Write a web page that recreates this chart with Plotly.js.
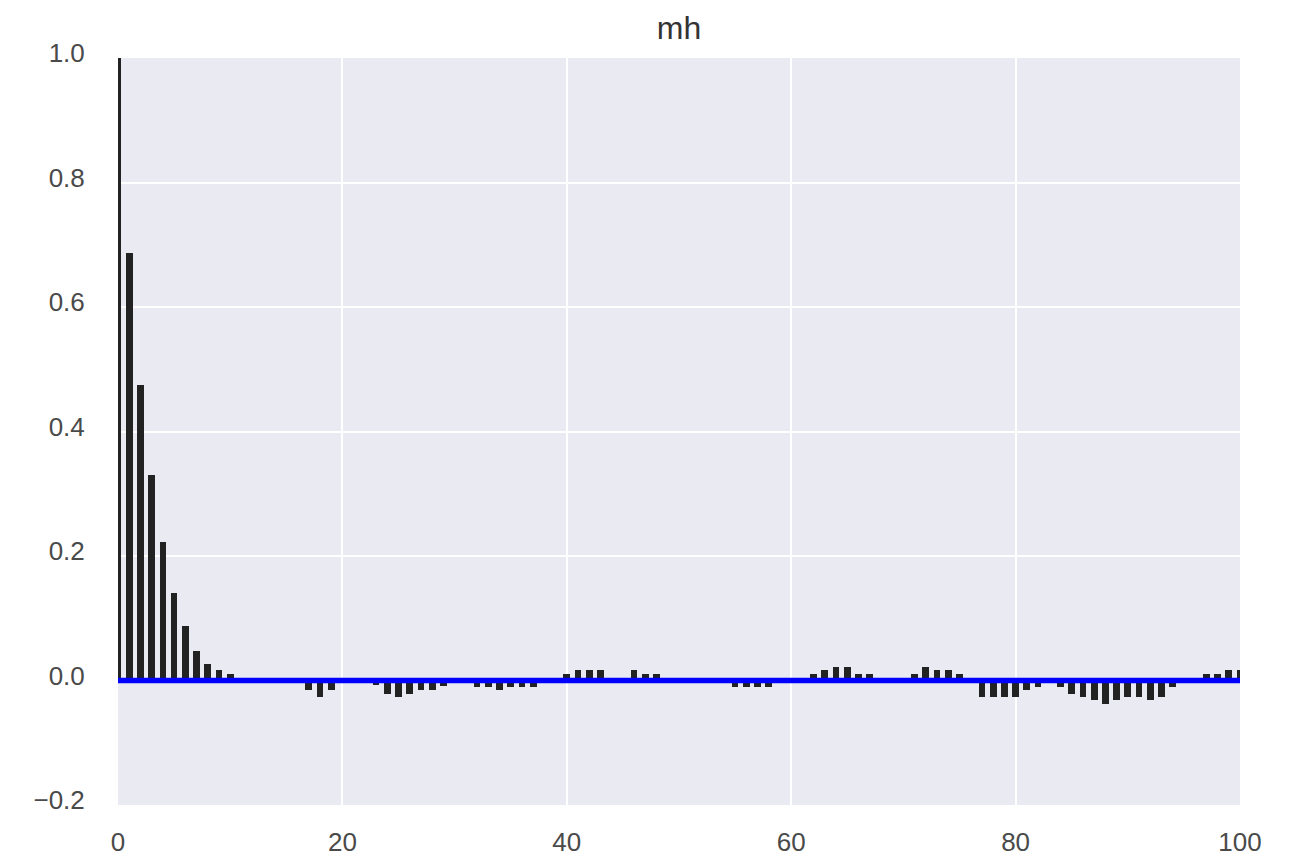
<!DOCTYPE html>
<html>
<head>
<meta charset="utf-8">
<script src="https://cdn.plot.ly/plotly-3.0.1.min.js"></script>
<style>
  html, body { margin: 0; padding: 0; background: #ffffff; }
  #chart { width: 1289px; height: 860px; }
</style>
</head>
<body>
<div id="chart"></div>
<script>
// Autocorrelation of "mh" by lag (0..100)
const lags = Array.from({length: 101}, (_, i) => i);
const acf = [
  1.000, 0.686, 0.475, 0.330, 0.222, 0.140, 0.087, 0.048, 0.027, 0.017,
  0.011, 0.004, 0.003, 0.002, 0.002, -0.003, -0.004, -0.016, -0.026, -0.016,
  -0.003, -0.002, -0.004, -0.008, -0.021, -0.026, -0.021, -0.016, -0.016, -0.009,
  -0.003, -0.003, -0.010, -0.010, -0.016, -0.010, -0.010, -0.010, -0.003, 0.003,
  0.011, 0.017, 0.017, 0.017, 0.003, 0.003, 0.017, 0.011, 0.011, 0.003,
  0.002, 0.002, -0.002, -0.003, -0.004, -0.010, -0.010, -0.010, -0.010, -0.003,
  -0.002, 0.003, 0.011, 0.017, 0.022, 0.022, 0.011, 0.011, 0.003, 0.003,
  0.004, 0.011, 0.022, 0.017, 0.017, 0.011, -0.002, -0.026, -0.026, -0.026,
  -0.026, -0.016, -0.010, -0.004, -0.010, -0.021, -0.026, -0.032, -0.037, -0.032,
  -0.026, -0.026, -0.032, -0.026, -0.010, 0.003, 0.004, 0.011, 0.011, 0.017,
  0.017
];
const baselineLevel = 0;

const xTickVals = [0, 20, 40, 60, 80, 100];
const xTickText = ['0', '20', '40', '60', '80', '100'];
const yTickVals = [-0.2, 0.0, 0.2, 0.4, 0.6, 0.8, 1.0];
const yTickText = ['\u22120.2', '0.0', '0.2', '0.4', '0.6', '0.8', '1.0'];
const chartTitle = 'mh';

const tickFont = {family: 'Liberation Sans, Arial, sans-serif', size: 26, color: '#4a4a4a'};

const traces = [
  {
    type: 'bar',
    x: lags,
    y: acf,
    width: 0.6,
    marker: {color: '#222222', line: {width: 0}},
    hoverinfo: 'skip'
  },
  {
    type: 'scatter',
    mode: 'lines',
    x: [lags[0], lags[lags.length - 1]],
    y: [baselineLevel, baselineLevel],
    line: {color: '#0000ff', width: 5.5},
    hoverinfo: 'skip'
  }
];

const layout = {
  width: 1289,
  height: 860,
  margin: {l: 118, r: 49, t: 58, b: 55},
  paper_bgcolor: '#ffffff',
  plot_bgcolor: '#eaeaf2',
  showlegend: false,
  bargap: 0,
  title: {
    text: chartTitle,
    font: {family: 'Liberation Sans, Arial, sans-serif', size: 32, color: '#333333'},
    x: 0.5, xref: 'paper', xanchor: 'center',
    y: 1, yref: 'paper', yanchor: 'bottom',
    pad: {b: 19}
  },
  xaxis: {
    range: [0, 100],
    tickvals: xTickVals,
    ticktext: xTickText,
    showgrid: true,
    gridcolor: '#ffffff',
    gridwidth: 2,
    zeroline: false,
    showline: false,
    ticks: 'outside',
    ticklen: 14,
    tickcolor: 'rgba(0,0,0,0)',
    tickfont: tickFont,
    fixedrange: true
  },
  yaxis: {
    range: [-0.2, 1.0],
    tickvals: yTickVals,
    ticktext: yTickText,
    showgrid: true,
    gridcolor: '#ffffff',
    gridwidth: 2,
    zeroline: false,
    showline: false,
    ticks: 'outside',
    ticklen: 27,
    tickcolor: 'rgba(0,0,0,0)',
    tickfont: tickFont,
    ticklabelshift: -5,
    fixedrange: true
  }
};

Plotly.newPlot('chart', traces, layout, {displayModeBar: false, staticPlot: true});
</script>
</body>
</html>
